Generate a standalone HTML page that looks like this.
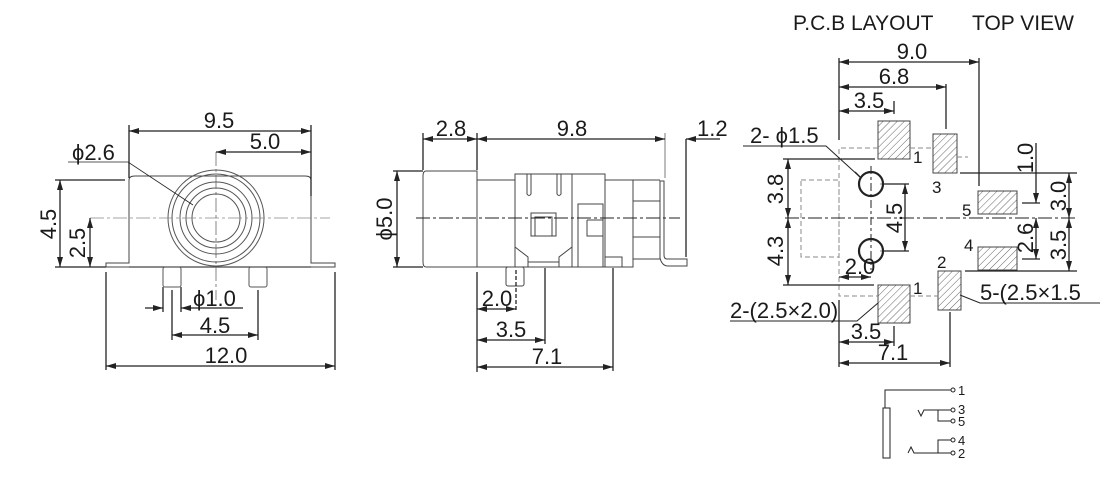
<!DOCTYPE html>
<html><head><meta charset="utf-8"><style>
html,body{margin:0;padding:0;background:#fff;}
svg{display:block;}
text{font-family:"Liberation Sans",Arial,sans-serif;fill:#1a1a1a;}
</style></head><body>
<svg width="1120" height="491" viewBox="0 0 1120 491" xmlns="http://www.w3.org/2000/svg">
<defs>
<marker id="a" viewBox="0 0 10 6" refX="10" refY="3" markerWidth="10" markerHeight="6" orient="auto-start-reverse" markerUnits="userSpaceOnUse"><path d="M0,0 L10,3 L0,6 z" fill="#222"/></marker>
<pattern id="h" width="5" height="5" patternUnits="userSpaceOnUse" patternTransform="rotate(45)"><line x1="0" y1="0" x2="0" y2="5" stroke="#555" stroke-width="0.9"/></pattern>
</defs>
<g stroke="#222" stroke-width="1.3" fill="none">
<!-- ===== FRONT VIEW ===== -->
<path d="M106,263 H129 V180 Q129,176 135,176 H305 Q311,176 311,180 V263 H335 V267 H106 Z" stroke="#444" stroke-width="1"/>
<line x1="129" y1="267" x2="311" y2="267" stroke="#444"/>
<circle cx="216" cy="218" r="48" stroke="#555" stroke-width="1"/>
<circle cx="216" cy="218" r="44" stroke="#555" stroke-width="1"/>
<circle cx="216" cy="218" r="36" stroke="#555" stroke-width="1"/>
<circle cx="216" cy="218" r="30" stroke="#555" stroke-width="1"/>
<circle cx="216" cy="218" r="24" stroke="#555" stroke-width="1"/>
<rect x="163" y="267" width="18" height="20" rx="2" stroke="#555" stroke-width="1"/>
<rect x="249" y="267" width="18" height="20" rx="2" stroke="#555" stroke-width="1"/>
<line x1="90" y1="218" x2="330" y2="218" stroke="#888" stroke-width="0.8" stroke-dasharray="14,3,3,3"/>
<line x1="216" y1="152" x2="216" y2="300" stroke="#666" stroke-width="0.8" stroke-dasharray="14,3,3,3"/>
<line x1="129" y1="125" x2="129" y2="178"/><line x1="311" y1="125" x2="311" y2="196"/>
<line x1="129" y1="131" x2="311" y2="131" marker-start="url(#a)" marker-end="url(#a)"/>
<line x1="216" y1="152" x2="311" y2="152" marker-end="url(#a)" marker-start="url(#a)"/>
<line x1="55" y1="180" x2="125" y2="180"/><line x1="55" y1="267" x2="106" y2="267"/>
<line x1="60" y1="180" x2="60" y2="267" marker-start="url(#a)" marker-end="url(#a)"/>
<line x1="90" y1="218" x2="90" y2="267" marker-start="url(#a)" marker-end="url(#a)"/>
<polyline points="68,162 128,162 193,205" stroke-width="0.8"/>
<line x1="163" y1="287" x2="163" y2="312"/><line x1="181" y1="287" x2="181" y2="312"/>
<line x1="145" y1="308" x2="163" y2="308" marker-end="url(#a)"/>
<line x1="243" y1="308" x2="181" y2="308" marker-end="url(#a)"/>
<line x1="172" y1="290" x2="172" y2="340"/><line x1="258" y1="290" x2="258" y2="340"/>
<line x1="172" y1="335" x2="258" y2="335" marker-start="url(#a)" marker-end="url(#a)"/>
<line x1="106" y1="272" x2="106" y2="370"/><line x1="335" y1="272" x2="335" y2="370"/>
<line x1="106" y1="366" x2="335" y2="366" marker-start="url(#a)" marker-end="url(#a)"/>
<!-- ===== SIDE VIEW ===== -->
<g stroke="#444" stroke-width="1">
<path d="M426,171 H477 V267 H426 Q423,267 423,262 V176 Q423,171 426,171 Z"/>
<rect x="477" y="180" width="38" height="87"/>
<path d="M515,174 H572 V267 H515 Z"/>
<path d="M515,247 L528,257 V267 M572,247 L559,257 V267 M528,262 H559"/>
<rect x="531" y="213" width="25" height="23"/><rect x="535" y="217" width="17" height="19"/>
<path d="M527,174 V194 Q529,197 531,194 V174 M557,174 V194 Q559,197 561,194 V174"/>
<path d="M572,174 H605 V180 H660 M572,180 V267 H605 V180"/>
<rect x="578" y="204" width="25" height="63"/>
<path d="M587,220 H603 M587,220 V236 H603"/>
<path d="M605,180 V267 H633 V180 M633,201 H660 M633,237 H660 M633,259 H660"/>
<path d="M605,257 H622 V267"/>
<path d="M660,181 V258 Q662,266 668,266 H687 V259 H667 Q664,259 664,255 V181 Z"/>
<rect x="506" y="267" width="18" height="19" rx="2"/>
</g>
<line x1="416" y1="218" x2="680" y2="218" stroke-width="1" stroke-dasharray="14,3,3,3"/>
<line x1="423" y1="133" x2="423" y2="170"/><line x1="477" y1="133" x2="477" y2="170"/>
<line x1="665" y1="133" x2="665" y2="178" stroke="#999"/>
<line x1="423" y1="139" x2="477" y2="139" marker-start="url(#a)" marker-end="url(#a)"/>
<line x1="477" y1="139" x2="665" y2="139" marker-start="url(#a)" marker-end="url(#a)"/>
<line x1="720" y1="139" x2="686" y2="139" marker-end="url(#a)"/>
<line x1="686" y1="139" x2="686" y2="257"/>
<line x1="393" y1="171" x2="423" y2="171"/><line x1="393" y1="267" x2="423" y2="267"/>
<line x1="397" y1="171" x2="397" y2="267" marker-start="url(#a)" marker-end="url(#a)"/>
<line x1="477" y1="272" x2="477" y2="372"/>
<line x1="516" y1="270" x2="516" y2="312" stroke-dasharray="4,2"/>
<line x1="545" y1="268" x2="545" y2="344"/><line x1="613" y1="268" x2="613" y2="371"/>
<line x1="477" y1="309" x2="516" y2="309" marker-start="url(#a)" marker-end="url(#a)"/>
<line x1="477" y1="340" x2="545" y2="340" marker-start="url(#a)" marker-end="url(#a)"/>
<line x1="477" y1="367" x2="613" y2="367" marker-start="url(#a)" marker-end="url(#a)"/>
<!-- ===== PCB LAYOUT ===== -->
<g stroke="#444" stroke-width="1">
<rect x="878" y="121" width="32" height="38" fill="url(#h)"/>
<rect x="933" y="134" width="24" height="39" fill="url(#h)"/>
<rect x="978" y="191" width="39" height="23" fill="url(#h)"/>
<rect x="978" y="247" width="39" height="23" fill="url(#h)"/>
<rect x="938" y="271" width="23" height="39" fill="url(#h)"/>
<rect x="878" y="285" width="32" height="38" fill="url(#h)"/>
</g>
<g stroke="#888" stroke-width="1" stroke-dasharray="5,3">
<path d="M878,148 H839 V296 H878"/>
<path d="M910,148 H933 M957,157 H968 M910,296 H938"/>
<rect x="801" y="180" width="38" height="77"/>
<line x1="880" y1="184" x2="908" y2="184"/><line x1="880" y1="251" x2="908" y2="251"/>
</g>
<circle cx="871" cy="184" r="12" stroke-width="2.2"/>
<circle cx="871" cy="251" r="12" stroke-width="2.2"/>
<line x1="871" y1="166" x2="871" y2="270" stroke-width="1" stroke-dasharray="8,3,3,3"/>
<line x1="785" y1="218" x2="1077" y2="218" stroke-width="1" stroke-dasharray="14,3,3,3"/>
<line x1="839" y1="58" x2="839" y2="140"/><line x1="979" y1="58" x2="979" y2="186"/>
<line x1="946" y1="84" x2="946" y2="129"/><line x1="894" y1="101" x2="894" y2="114"/>
<line x1="839" y1="62" x2="979" y2="62" marker-start="url(#a)" marker-end="url(#a)"/>
<line x1="839" y1="87" x2="946" y2="87" marker-start="url(#a)" marker-end="url(#a)"/>
<line x1="839" y1="111" x2="894" y2="111" marker-start="url(#a)" marker-end="url(#a)"/>
<line x1="783" y1="159" x2="875" y2="159"/><line x1="783" y1="285" x2="874" y2="285"/>
<line x1="788" y1="159" x2="788" y2="218" marker-start="url(#a)" marker-end="url(#a)"/>
<line x1="788" y1="218" x2="788" y2="285" marker-start="url(#a)" marker-end="url(#a)"/>
<line x1="884" y1="184" x2="909" y2="184"/><line x1="884" y1="251" x2="909" y2="251"/>
<line x1="905" y1="184" x2="905" y2="251" marker-start="url(#a)" marker-end="url(#a)"/>
<line x1="960" y1="173" x2="1077" y2="173"/><line x1="965" y1="271" x2="1077" y2="271"/>
<line x1="1022" y1="203" x2="1040" y2="203"/><line x1="1022" y1="259" x2="1040" y2="259"/>
<line x1="1036" y1="143" x2="1036" y2="203" marker-end="url(#a)"/>
<line x1="1036" y1="218" x2="1036" y2="259" marker-start="url(#a)" marker-end="url(#a)"/>
<line x1="1069" y1="173" x2="1069" y2="218" marker-start="url(#a)" marker-end="url(#a)"/>
<line x1="1069" y1="218" x2="1069" y2="271" marker-start="url(#a)" marker-end="url(#a)"/>
<polyline points="743,146 826,146 860,177" stroke-width="1"/>
<line x1="860" y1="177" x2="855" y2="172"/>
<polyline points="730,321 857,321 878,303" stroke-width="1"/>
<polyline points="1100,303 980,303 960,295" stroke-width="1"/>
<line x1="839" y1="300" x2="839" y2="367"/><line x1="894" y1="326" x2="894" y2="346"/>
<line x1="950" y1="312" x2="950" y2="367"/>
<line x1="839" y1="277" x2="871" y2="277" marker-start="url(#a)" marker-end="url(#a)"/>
<line x1="839" y1="342" x2="894" y2="342" marker-start="url(#a)" marker-end="url(#a)"/>
<line x1="839" y1="363" x2="950" y2="363" marker-start="url(#a)" marker-end="url(#a)"/>
<!-- schematic -->
<g stroke-width="1">
<rect x="883" y="408" width="7" height="50"/>
<polyline points="885,408 885,390 951,390"/>
<circle cx="953" cy="390" r="2"/>
<polyline points="918,410 921,416 924,410 951,410"/><circle cx="953" cy="410" r="2"/>
<polyline points="938,410 938,421 951,421"/><circle cx="953" cy="421" r="2"/>
<polyline points="908,453 911,447 914,453 951,453"/><circle cx="953" cy="453" r="2"/>
<polyline points="938,453 938,440 951,440"/><circle cx="953" cy="440" r="2"/>
</g>
</g>
<g font-size="22">
<text x="219" y="128" text-anchor="middle">9.5</text>
<text x="265" y="149" text-anchor="middle">5.0</text>
<text x="72" y="160">ϕ2.6</text>
<text transform="translate(56,224) rotate(-90)" text-anchor="middle">4.5</text>
<text transform="translate(85,243) rotate(-90)" text-anchor="middle">2.5</text>
<text x="193" y="306">ϕ1.0</text>
<text x="215" y="333" text-anchor="middle">4.5</text>
<text x="226" y="363" text-anchor="middle">12.0</text>
<text x="451" y="136" text-anchor="middle">2.8</text>
<text x="572" y="136" text-anchor="middle">9.8</text>
<text x="697" y="136">1.2</text>
<text transform="translate(392,219) rotate(-90)" text-anchor="middle">ϕ5.0</text>
<text x="497" y="306" text-anchor="middle">2.0</text>
<text x="511" y="337" text-anchor="middle">3.5</text>
<text x="547" y="364" text-anchor="middle">7.1</text>
<text x="1090" y="64" font-size="0"> </text>
<text x="912" y="59" text-anchor="middle">9.0</text>
<text x="894" y="84" text-anchor="middle">6.8</text>
<text x="869" y="108" text-anchor="middle">3.5</text>
<text x="750" y="143">2- ϕ1.5</text>
<text transform="translate(783,189) rotate(-90)" text-anchor="middle">3.8</text>
<text transform="translate(783,251) rotate(-90)" text-anchor="middle">4.3</text>
<text transform="translate(902,218) rotate(-90)" text-anchor="middle">4.5</text>
<text transform="translate(1033,158) rotate(-90)" text-anchor="middle">1.0</text>
<text transform="translate(1066,196) rotate(-90)" text-anchor="middle">3.0</text>
<text transform="translate(1033,238) rotate(-90)" text-anchor="middle">2.6</text>
<text transform="translate(1066,245) rotate(-90)" text-anchor="middle">3.5</text>
<text x="860" y="274" text-anchor="middle">2.0</text>
<text x="730" y="318">2-(2.5×2.0)</text>
<text x="980" y="300">5-(2.5×1.5</text>
<text x="866" y="339" text-anchor="middle">3.5</text>
<text x="893" y="360" text-anchor="middle">7.1</text>
</g>
<g font-size="21">
<text x="793" y="30">P.C.B LAYOUT</text>
<text x="972" y="30">TOP VIEW</text>
</g>
<g font-size="17">
<text x="913" y="163">1</text>
<text x="932" y="193">3</text>
<text x="962" y="216">5</text>
<text x="964" y="251">4</text>
<text x="937" y="268">2</text>
<text x="913" y="294">1</text>
</g>
<g font-size="13">
<text x="958" y="395">1</text>
<text x="958" y="414">3</text>
<text x="958" y="426">5</text>
<text x="958" y="445">4</text>
<text x="958" y="458">2</text>
</g>
</svg>
</body></html>
